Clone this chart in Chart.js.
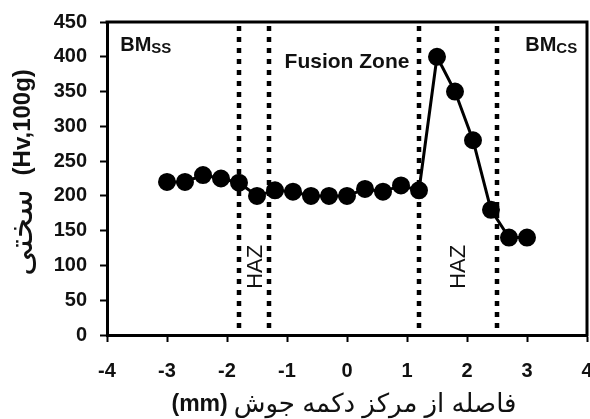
<!DOCTYPE html>
<html>
<head>
<meta charset="utf-8">
<script src="https://cdn.jsdelivr.net/npm/chart.js@4/dist/chart.umd.min.js"></script>
<style>
  html, body { margin: 0; padding: 0; background: #fff; }
</style>
</head>
<body>
<canvas id="chart" width="590" height="419"></canvas>
<script>
// hardness profile across the weld nugget
const distance = [-3.0, -2.7, -2.4, -2.1, -1.8, -1.5, -1.2, -0.9, -0.6, -0.3, 0.0, 0.3, 0.6, 0.9, 1.2, 1.5, 1.8, 2.1, 2.4, 2.7, 3.0];
const hardness = [220, 220, 230, 225, 219, 200, 208, 206, 200, 200, 200, 210, 206, 215, 208, 400, 350, 280, 180, 140, 140];

// zone boundaries (mm) - dotted lines
const boundaries = [-1.8, -1.3, 1.2, 2.5];
const boundaryRange = [10, 450];

const xTicks = [-4, -3, -2, -1, 0, 1, 2, 3, 4];
const yTicks = [0, 50, 100, 150, 200, 250, 300, 350, 400, 450];

// axis titles: persian part + unit part
const xTitleFa = 'فاصله از مرکز دکمه جوش';
const xTitleUnit = '(mm)';
const yTitleFa = 'سختی';
const yTitleUnit = '(Hv,100g)';

const FONT = "'Liberation Sans', Arial, 'DejaVu Sans', sans-serif";

// zone labels, placed in data coordinates
const zoneLabels = [
  { main: 'BM', sub: 'SS', x: -3.78, y: 409, align: 'left' },
  { main: 'BM', sub: 'CS', x: 2.97, y: 409, align: 'left' },
  { main: 'Fusion Zone', x: 0, y: 392, align: 'center' },
  { main: 'HAZ', x: -1.52, y: 98, rotate: true },
  { main: 'HAZ', x: 1.87, y: 98, rotate: true }
];

const boundaryDatasets = boundaries.map(b => ({
  data: boundaryRange.map(v => ({ x: b, y: v })),
  borderColor: '#000',
  borderWidth: 4.5,
  borderDash: [5, 6],
  borderCapStyle: 'butt',
  pointRadius: 0,
  order: 2
}));

const frame = {
  id: 'frame',
  afterDraw(chart) {
    const { ctx, chartArea: a } = chart;
    ctx.save();
    ctx.strokeStyle = '#000';
    ctx.lineWidth = 3;
    ctx.beginPath();
    ctx.moveTo(a.left - 1.5, a.top);
    ctx.lineTo(a.right, a.top);
    ctx.lineTo(a.right, a.bottom + 1.5);
    ctx.stroke();
    ctx.restore();
  }
};

// draws two runs side by side (visual left to right), centred on cx
function drawPair(ctx, left, leftFont, right, rightFont, cx, cy, gap) {
  ctx.font = leftFont;
  const w1 = ctx.measureText(left).width;
  ctx.font = rightFont;
  const w2 = ctx.measureText(right).width;
  const x0 = cx - (w1 + gap + w2) / 2;
  ctx.textAlign = 'left';
  ctx.textBaseline = 'middle';
  ctx.font = leftFont;
  ctx.fillText(left, x0, cy);
  ctx.font = rightFont;
  ctx.fillText(right, x0 + w1 + gap, cy);
}

const axisTitles = {
  id: 'axisTitles',
  afterDraw(chart) {
    const { ctx, chartArea: a } = chart;
    ctx.save();
    ctx.fillStyle = '#111';
    // x title: unit on the left, persian to the right (read right to left)
    drawPair(ctx, xTitleUnit, 'bold 23px ' + FONT, xTitleFa, '26px ' + FONT,
      (a.left + a.right) / 2 - 3, 405, 6);

    // y title, rotated: persian at the bottom, unit above
    ctx.translate(23, (a.top + a.bottom) / 2 - 6);
    ctx.rotate(-Math.PI / 2);
    drawPair(ctx, yTitleFa, '33px ' + FONT, yTitleUnit, 'bold 24px ' + FONT, 0, 0, 14);
    ctx.restore();
  }
};

const zoneText = {
  id: 'zoneText',
  afterDatasetsDraw(chart) {
    const { ctx, scales } = chart;
    ctx.save();
    ctx.fillStyle = '#111';
    zoneLabels.forEach(l => {
      const px = scales.x.getPixelForValue(l.x);
      const py = scales.y.getPixelForValue(l.y);
      if (l.rotate) {
        ctx.save();
        ctx.translate(px, py);
        ctx.rotate(-Math.PI / 2);
        ctx.font = '22px ' + FONT;
        ctx.textAlign = 'center';
        ctx.textBaseline = 'middle';
        ctx.fillText(l.main, 0, 0);
        ctx.restore();
      } else if (l.sub) {
        ctx.font = 'bold 20px ' + FONT;
        ctx.textAlign = 'left';
        ctx.textBaseline = 'alphabetic';
        ctx.fillText(l.main, px, py);
        const w = ctx.measureText(l.main).width;
        ctx.font = 'bold 15px ' + FONT;
        ctx.fillText(l.sub, px + w, py + 2);
      } else {
        ctx.font = 'bold 21px ' + FONT;
        ctx.textAlign = l.align;
        ctx.textBaseline = 'middle';
        ctx.fillText(l.main, px, py);
      }
    });
    ctx.restore();
  }
};

// keep the plot box where the original has it, whatever the tick labels need
function fixX(s) {
  s.height = 84;
  s.paddingLeft = 0;
  s.paddingRight = 0;
}
function fixY(s) {
  s.width = 107;
  s.paddingTop = 0;
  s.paddingBottom = 0;
}

new Chart(document.getElementById('chart'), {
  type: 'line',
  data: {
    datasets: [{
      data: distance.map((d, i) => ({ x: d, y: hardness[i] })),
      borderColor: '#000',
      backgroundColor: '#000',
      borderWidth: 3,
      pointRadius: 7.5,
      pointStyle: 'circle',
      pointBackgroundColor: '#000',
      pointBorderColor: '#000',
      tension: 0,
      order: 1
    }, ...boundaryDatasets]
  },
  options: {
    responsive: false,
    animation: false,
    layout: { autoPadding: false, padding: { top: 22, right: 3, left: 0, bottom: 0 } },
    plugins: { legend: { display: false }, tooltip: { enabled: false } },
    scales: {
      x: {
        type: 'linear',
        min: -4,
        max: 4,
        afterBuildTicks: s => { s.ticks = xTicks.map(v => ({ value: v })); },
        afterFit: fixX,
        ticks: { color: '#111', font: { family: FONT, size: 20, weight: 'bold' }, padding: 17, maxRotation: 0 },
        grid: { drawOnChartArea: false, drawTicks: true, tickLength: 7, tickWidth: 2, tickColor: '#000', color: '#000' },
        border: { display: true, color: '#000', width: 3 },
        title: { display: false }
      },
      y: {
        min: 0,
        max: 450,
        afterBuildTicks: s => { s.ticks = yTicks.map(v => ({ value: v })); },
        afterFit: fixY,
        ticks: { color: '#111', font: { family: FONT, size: 20, weight: 'bold' }, padding: 13 },
        grid: { drawOnChartArea: false, drawTicks: true, tickLength: 7, tickWidth: 2, tickColor: '#000', color: '#000' },
        border: { display: true, color: '#000', width: 3 },
        title: { display: false }
      }
    }
  },
  plugins: [frame, zoneText, axisTitles]
});
</script>
</body>
</html>
